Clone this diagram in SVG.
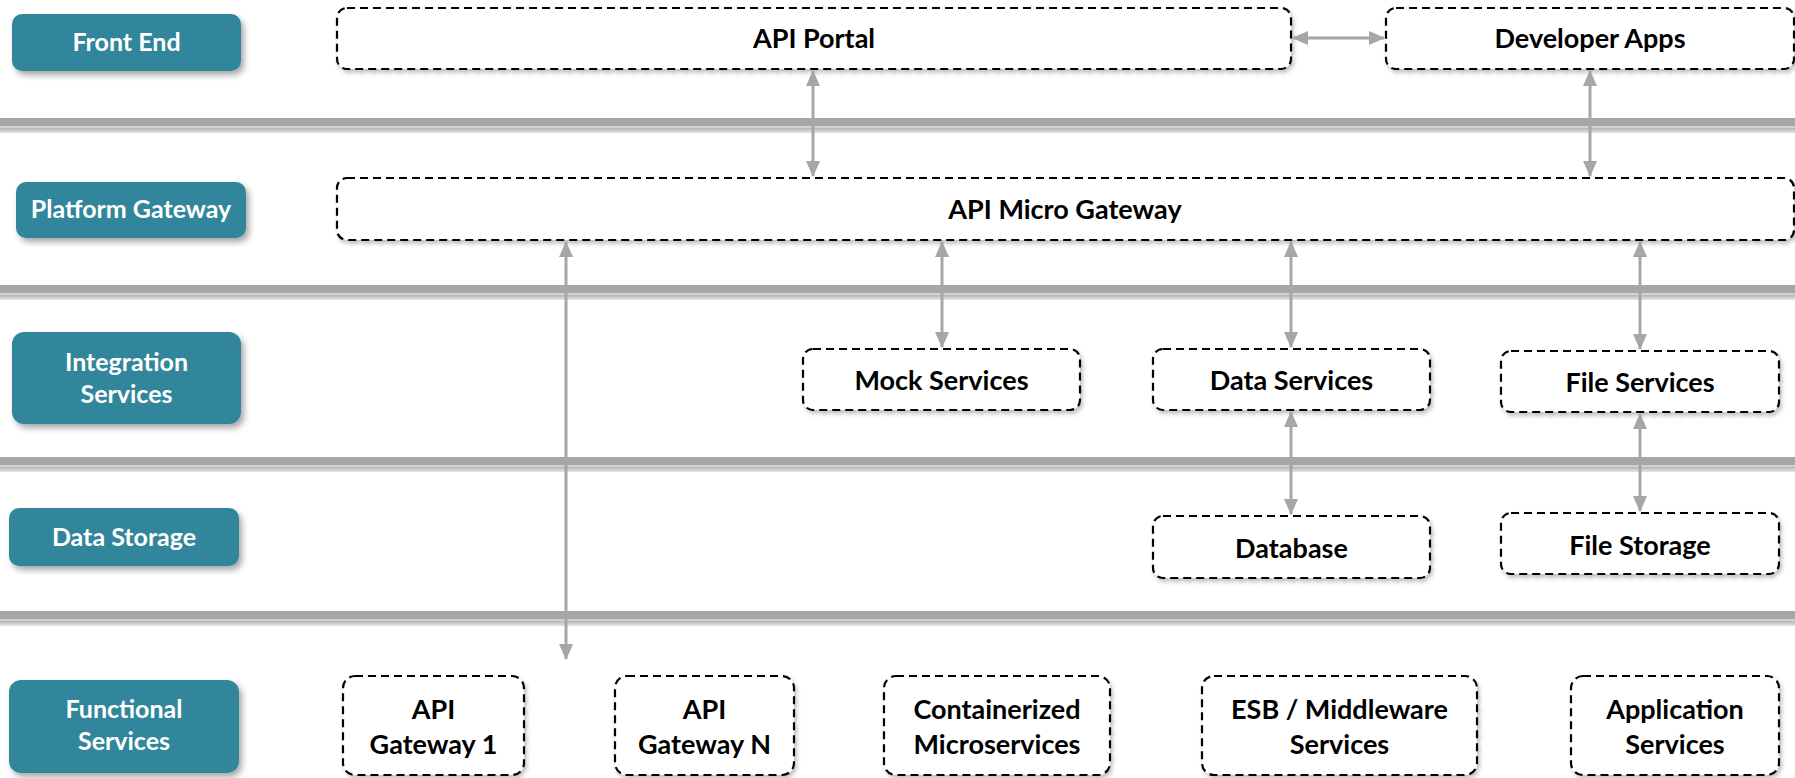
<svg xmlns="http://www.w3.org/2000/svg" width="1795" height="778" viewBox="0 0 1795 778">
  <defs>
    <style>
      .lbl rect { fill: #31869b; }
      .lbl text { fill: #ffffff; font-family: Lato, "Liberation Sans", sans-serif; font-weight: bold; font-size: 25px; text-anchor: middle; }
      .node rect { fill: #ffffff; stroke: #000000; stroke-width: 2.2; stroke-dasharray: 8 5; }
      .node text { fill: #000000; font-family: Lato, "Liberation Sans", sans-serif; font-weight: bold; font-size: 27px; text-anchor: middle; }
      .conn line { stroke: #a6a6a6; stroke-width: 3; marker-start: url(#ah); marker-end: url(#ah); }
      .sep .a { fill: #a6a6a6; }
      .sep .b { fill: #d2d2d2; }
      .sep .c { fill: url(#sepg); }
    </style>
    <linearGradient id="sepg" x1="0" y1="0" x2="0" y2="1">
      <stop offset="0" stop-color="#b4b4b4"/>
      <stop offset="1" stop-color="#e6e6e6"/>
    </linearGradient>
    <filter id="sh" x="-10%" y="-20%" width="125%" height="160%">
      <feDropShadow dx="3" dy="4" stdDeviation="3" flood-color="#000" flood-opacity="0.35"/>
    </filter>
    <filter id="sh2" x="-5%" y="-20%" width="115%" height="150%">
      <feDropShadow dx="2" dy="3" stdDeviation="2" flood-color="#000" flood-opacity="0.25"/>
    </filter>
    <marker id="ah" viewBox="0 0 16 14" refX="15" refY="7" markerWidth="16" markerHeight="14" markerUnits="userSpaceOnUse" orient="auto-start-reverse">
      <path d="M0,0 L16,7 L0,14 Z" fill="#a6a6a6"/>
    </marker>
  </defs>

  <rect width="1795" height="778" fill="#ffffff"/>

  <g id="separators" class="sep">
    <rect class="a" x="0" y="118" width="1795" height="8"/>
    <rect class="b" x="0" y="126" width="1795" height="2"/>
    <rect class="c" x="0" y="128" width="1795" height="5"/>
    <rect class="a" x="0" y="285" width="1795" height="8"/>
    <rect class="b" x="0" y="293" width="1795" height="2"/>
    <rect class="c" x="0" y="295" width="1795" height="5"/>
    <rect class="a" x="0" y="457" width="1795" height="8"/>
    <rect class="b" x="0" y="465" width="1795" height="2"/>
    <rect class="c" x="0" y="467" width="1795" height="5"/>
    <rect class="a" x="0" y="611" width="1795" height="8"/>
    <rect class="b" x="0" y="619" width="1795" height="2"/>
    <rect class="c" x="0" y="621" width="1795" height="5"/>
  </g>

  <g id="label-front-end" class="lbl">
    <rect x="12" y="14" width="229" height="57" rx="10" filter="url(#sh)"/>
    <text x="126.5" y="51">Front End</text>
  </g>
  <g id="label-platform-gateway" class="lbl">
    <rect x="16" y="182" width="230" height="56" rx="10" filter="url(#sh)"/>
    <text x="131" y="218">Platform Gateway</text>
  </g>
  <g id="label-integration-services" class="lbl">
    <rect x="12" y="332" width="229" height="92" rx="12" filter="url(#sh)"/>
    <text x="126.5" y="371">Integration</text>
    <text x="126.5" y="403">Services</text>
  </g>
  <g id="label-data-storage" class="lbl">
    <rect x="9" y="508" width="230" height="58" rx="10" filter="url(#sh)"/>
    <text x="124" y="546">Data Storage</text>
  </g>
  <g id="label-functional-services" class="lbl">
    <rect x="9" y="680" width="230" height="93" rx="12" filter="url(#sh)"/>
    <text x="124" y="718">Functional</text>
    <text x="124" y="750">Services</text>
  </g>

  <g id="node-api-portal" class="node">
    <rect x="337" y="8" width="954" height="61" rx="10" filter="url(#sh2)"/>
    <text x="814" y="48">API Portal</text>
  </g>
  <g id="node-developer-apps" class="node">
    <rect x="1386" y="8" width="408" height="61" rx="10" filter="url(#sh2)"/>
    <text x="1590" y="48">Developer Apps</text>
  </g>
  <g id="node-api-micro-gateway" class="node">
    <rect x="337" y="178" width="1457" height="62" rx="10" filter="url(#sh2)"/>
    <text x="1065" y="219">API Micro Gateway</text>
  </g>
  <g id="node-mock-services" class="node">
    <rect x="803" y="349" width="277" height="61" rx="10" filter="url(#sh2)"/>
    <text x="941.5" y="390">Mock Services</text>
  </g>
  <g id="node-data-services" class="node">
    <rect x="1153" y="349" width="277" height="61" rx="10" filter="url(#sh2)"/>
    <text x="1291.5" y="390">Data Services</text>
  </g>
  <g id="node-file-services" class="node">
    <rect x="1501" y="351" width="278" height="61" rx="10" filter="url(#sh2)"/>
    <text x="1640" y="392">File Services</text>
  </g>
  <g id="node-database" class="node">
    <rect x="1153" y="516" width="277" height="62" rx="10" filter="url(#sh2)"/>
    <text x="1291.5" y="558">Database</text>
  </g>
  <g id="node-file-storage" class="node">
    <rect x="1501" y="513" width="278" height="61" rx="10" filter="url(#sh2)"/>
    <text x="1640" y="555">File Storage</text>
  </g>
  <g id="node-api-gateway-1" class="node">
    <rect x="343" y="676" width="181" height="99" rx="12" filter="url(#sh2)"/>
    <text x="433.5" y="719">API</text>
    <text x="433.5" y="754">Gateway 1</text>
  </g>
  <g id="node-api-gateway-n" class="node">
    <rect x="615" y="676" width="179" height="99" rx="12" filter="url(#sh2)"/>
    <text x="704.5" y="719">API</text>
    <text x="704.5" y="754">Gateway N</text>
  </g>
  <g id="node-containerized-microservices" class="node">
    <rect x="884" y="676" width="226" height="99" rx="12" filter="url(#sh2)"/>
    <text x="997" y="719">Containerized</text>
    <text x="997" y="754">Microservices</text>
  </g>
  <g id="node-esb-middleware-services" class="node">
    <rect x="1202" y="676" width="275" height="99" rx="12" filter="url(#sh2)"/>
    <text x="1339.5" y="719">ESB / Middleware</text>
    <text x="1339.5" y="754">Services</text>
  </g>
  <g id="node-application-services" class="node">
    <rect x="1571" y="676" width="208" height="99" rx="12" filter="url(#sh2)"/>
    <text x="1675" y="719">Application</text>
    <text x="1675" y="754">Services</text>
  </g>

  <g id="connectors" class="conn">
    <line x1="1293" y1="38" x2="1384" y2="38"/>
    <line x1="813" y1="71" x2="813" y2="176"/>
    <line x1="1590" y1="71" x2="1590" y2="176"/>
    <line x1="566" y1="242" x2="566" y2="659"/>
    <line x1="942" y1="242" x2="942" y2="347"/>
    <line x1="1291" y1="242" x2="1291" y2="347"/>
    <line x1="1640" y1="242" x2="1640" y2="349"/>
    <line x1="1291" y1="412" x2="1291" y2="514"/>
    <line x1="1640" y1="414" x2="1640" y2="511"/>
  </g>
</svg>
